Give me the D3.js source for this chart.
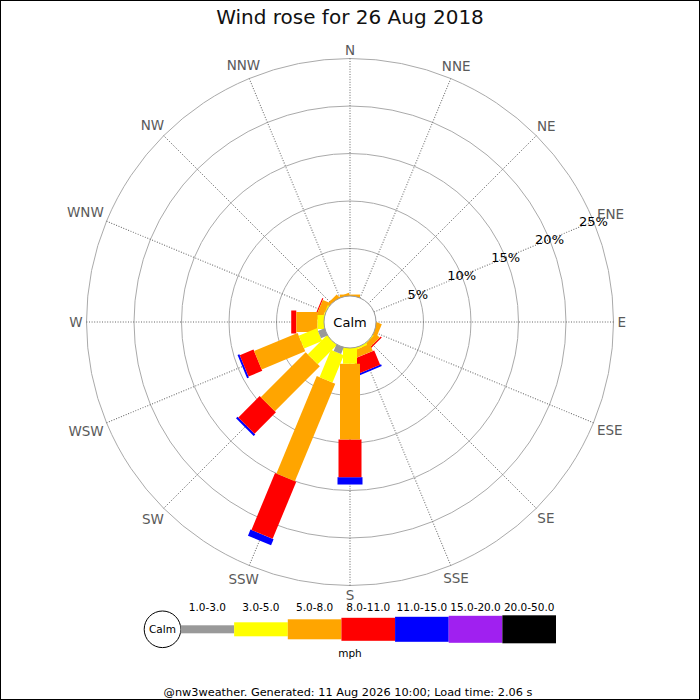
<!DOCTYPE html>
<html>
<head>
<meta charset="utf-8">
<script src="https://cdn.jsdelivr.net/npm/d3@7"></script>
<style>
  body { margin: 0; background: #fff; }
  svg text { font-family: "DejaVu Sans", sans-serif; }
</style>
</head>
<body>
<div id="chart"></div>
<script>
// compass points, clockwise from north
const directions = ["N", "NNE", "NE", "ENE", "E", "ESE", "SE", "SSE", "S", "SSW", "SW", "WSW", "W", "WNW", "NW", "NNW"];
const speedBands = ["1.0-3.0", "3.0-5.0", "5.0-8.0", "8.0-11.0", "11.0-15.0", "15.0-20.0", "20.0-50.0"];

// % of the day per direction, one list per speed band (mph)
const band1to3   = [0, 0, 0, 0, 0, 0, 0,    0,    0,    0.74, 0,    0.74, 0,    0,    0,   0];
const band3to5   = [0, 0, 0, 0, 0, 0, 0.05, 0.2,  1.66, 3.12, 2.81, 2.06, 0.68, 0.1,  0,   0];
const band5to8   = [0.15, 0, 0, 0, 0, 0.45, 0.58, 0.8, 7.97, 11.1, 6.69, 4.96, 2.24, 0.7, 0.3, 0.15];
const band8to11  = [0, 0, 0, 0, 0, 0, 0.15, 1.63, 3.97, 6.5,  3.18, 1.56, 0.53, 0.12, 0,   0];
const band11to15 = [0, 0, 0, 0, 0, 0, 0,    0.2,  0.77, 0.69, 0.24, 0.21, 0,    0,    0,   0];
const band15to20 = [0, 0, 0, 0, 0, 0, 0,    0,    0,    0,    0,    0,    0,    0,    0,   0];
const band20to50 = [0, 0, 0, 0, 0, 0, 0,    0,    0,    0,    0,    0,    0,    0,    0,   0];

const pctTicks = [5, 10, 15, 20, 25];
const titleText = "Wind rose for 26 Aug 2018";
const footerText = "@nw3weather. Generated: 11 Aug 2026 10:00; Load time: 2.06 s";

// styles
const bandColors = ["#999999", "#ffff00", "#ffa500", "#ff0000", "#0000ff", "#a020f0", "#000000"];
const bandWidths = [8, 14, 20, 23, 25, 27, 28];

const W = 700, H = 700;
const cx = 350, cy = 322;
const calmR = 26;

const svg = d3.select("#chart").append("svg")
    .attr("width", W)
    .attr("height", H);

svg.append("rect")
    .attr("x", 0.5).attr("y", 0.5)
    .attr("width", W - 1).attr("height", H - 1)
    .attr("fill", "#fff")
    .attr("stroke", "#000");

// scales
const rScale = d3.scaleLinear().domain([0, 25]).range([calmR, 263.5]);
const angle = d3.scalePoint().domain(directions).range([0, 337.5]);
const color = d3.scaleOrdinal().domain(speedBands).range(bandColors);
const width = d3.scaleOrdinal().domain(speedBands).range(bandWidths);

const bandLists = [band1to3, band3to5, band5to8, band8to11, band11to15, band15to20, band20to50];
const rows = directions.map((d, i) => {
    const row = { dir: d };
    speedBands.forEach((b, k) => { row[b] = bandLists[k][i]; });
    return row;
});
const series = d3.stack().keys(speedBands)(rows);

const g = svg.append("g").attr("transform", `translate(${cx},${cy})`);

// grid circles
g.selectAll(".grid")
    .data(pctTicks)
    .join("circle")
    .attr("r", d => rScale(d))
    .attr("fill", "none")
    .attr("stroke", "#aaa")
    .attr("stroke-width", 1);

// spokes
g.selectAll(".spoke")
    .data(directions)
    .join("line")
    .attr("transform", d => `rotate(${angle(d)})`)
    .attr("x1", 0).attr("y1", -rScale(0))
    .attr("x2", 0).attr("y2", -rScale(25))
    .attr("stroke", "#555")
    .attr("stroke-width", 0.9)
    .attr("stroke-dasharray", "1,1.6");

// legs: outer bands first so the inner ones sit on top near the centre
series.slice().reverse().forEach(s => {
    const w = width(s.key);
    g.append("g")
        .selectAll("rect")
        .data(s.filter(p => p[1] - p[0] > 0))
        .join("rect")
        .attr("transform", p => `rotate(${angle(p.data.dir)})`)
        .attr("x", -w / 2)
        .attr("y", p => -rScale(p[1]))
        .attr("width", w)
        .attr("height", p => rScale(p[1]) - (p[0] === 0 ? 0 : rScale(p[0])))
        .attr("fill", color(s.key));
});

// calm circle
g.append("circle")
    .attr("r", calmR)
    .attr("fill", "#fff")
    .attr("stroke", "#999");
g.append("text")
    .attr("x", 0).attr("y", 4.7)
    .attr("text-anchor", "middle")
    .style("font-size", "13px")
    .attr("fill", "#000")
    .text("Calm");

// percentage labels along the ENE spoke
const labA = angle("ENE") * Math.PI / 180;
g.selectAll(".pct")
    .data(pctTicks)
    .join("text")
    .attr("x", d => rScale(d) * Math.sin(labA))
    .attr("y", d => -rScale(d) * Math.cos(labA) + 4.7)
    .attr("text-anchor", "middle")
    .style("font-size", "13px")
    .attr("fill", "#000")
    .text(d => d + "%");

// compass labels
directions.forEach(d => {
    const a = angle(d) * Math.PI / 180;
    const t = g.append("text")
        .attr("text-anchor", "middle")
        .style("font-size", "13.5px")
        .attr("fill", "#5a5a5a")
        .text(d);
    const hw = t.node().getComputedTextLength() / 2;
    const hh = 5;
    const r = rScale(25) + 4 + hw * Math.abs(Math.sin(a)) + hh * Math.abs(Math.cos(a));
    t.attr("x", r * Math.sin(a)).attr("y", -r * Math.cos(a) + 5);
});

// title
svg.append("text")
    .attr("x", W / 2).attr("y", 24)
    .attr("text-anchor", "middle")
    .style("font-size", "20px")
    .attr("fill", "#111")
    .text(titleText);

// legend
const legendX = d3.scaleBand().domain(speedBands).range([180.5, 556]);
const legendY = 629.3;

svg.append("circle")
    .attr("cx", 162.5).attr("cy", legendY)
    .attr("r", 18.3)
    .attr("fill", "#fff")
    .attr("stroke", "#000");
svg.append("text")
    .attr("x", 162.5).attr("y", legendY + 3.8)
    .attr("text-anchor", "middle")
    .style("font-size", "10.5px")
    .text("Calm");

svg.selectAll(".legbar")
    .data(speedBands)
    .join("rect")
    .attr("x", d => legendX(d))
    .attr("y", d => legendY - width(d) / 2)
    .attr("width", legendX.bandwidth())
    .attr("height", d => width(d))
    .attr("fill", d => color(d));

svg.selectAll(".leglab")
    .data(speedBands)
    .join("text")
    .attr("x", d => legendX(d) + legendX.bandwidth() / 2)
    .attr("y", 610.7)
    .attr("text-anchor", "middle")
    .style("font-size", "10.5px")
    .text(d => d);

svg.append("text")
    .attr("x", 350).attr("y", 656.5)
    .attr("text-anchor", "middle")
    .style("font-size", "10.5px")
    .text("mph");

svg.append("text")
    .attr("x", 348).attr("y", 696)
    .attr("text-anchor", "middle")
    .style("font-size", "11.3px")
    .text(footerText);
</script>
</body>
</html>
